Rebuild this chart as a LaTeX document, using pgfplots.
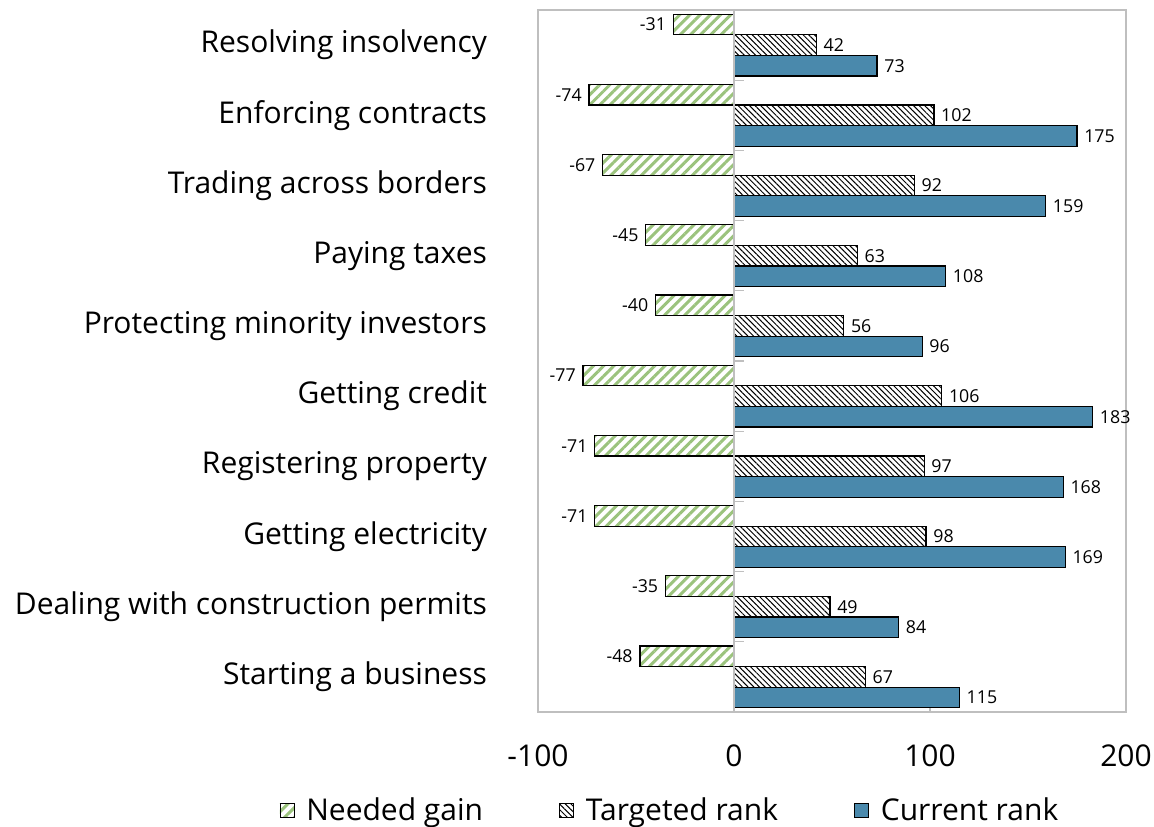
\documentclass[border=0pt]{standalone}
\usepackage{fontspec}
\setmainfont{Open Sans}
\usepackage{pgfplots}
\pgfplotsset{compat=1.18}
\usetikzlibrary{patterns.meta}
\definecolor{stripegreen}{HTML}{9BC37D}
\definecolor{barblue}{HTML}{4A89AC}
\definecolor{framegray}{HTML}{BFBFBF}

\begin{document}
\begin{tikzpicture}
\begin{axis}[
    xbar,
    scale only axis,
    width=294pt, height=351pt,
    xmin=-100, xmax=200,
    ymin=-0.5, ymax=9.5,
    xtick={-100,0,100,200},
    xtick pos=bottom,
    tick align=inside,
    major tick length=5pt,
    xtick style={framegray, line width=0.6pt},
    ytick={0,...,9},
    ytick style={draw=none},
    yticklabels={Starting a business, Dealing with construction permits,
      Getting electricity, Registering property, Getting credit,
      Protecting minority investors, Paying taxes, Trading across borders,
      Enforcing contracts, Resolving insolvency},
    yticklabel style={font=\fontsize{15}{17}\selectfont, xshift=-22pt},
    xticklabel style={font=\fontsize{15}{17}\selectfont, yshift=-13pt},
    /pgf/number format/assume math mode=true,
    axis line style={framegray, line width=0.6pt},
    bar width=10.3pt,
    nodes near coords,
    nodes near coords style={font=\fontsize{8.9}{10}\selectfont, black},
    legend style={at={(0.226,-0.14)}, anchor=center, draw=none,
      font=\fontsize{15}{17}\selectfont, legend columns=3,
      /tikz/every odd column/.append style={column sep=4pt},
      /tikz/every even column/.append style={column sep=36pt}},
    legend image code/.code={\draw[#1, line width=0.4pt] (0pt,-3.5pt) rectangle (7pt,3.5pt);},
]
\addplot[draw=black, line width=0.6pt, bar shift=10.3pt,
    pattern={Lines[angle=45, distance=3.6pt, line width=1.5pt]}, pattern color=stripegreen,
    every node near coord/.append style={anchor=east}]
  coordinates {(-48,0) (-35,1) (-71,2) (-71,3) (-77,4) (-40,5) (-45,6) (-67,7) (-74,8) (-31,9)};
\addlegendentry{Needed gain}
\addplot[draw=black, line width=0.6pt, bar shift=0pt,
    pattern={Lines[angle=-45, distance=2pt, line width=0.5pt]}, pattern color=black,
    every node near coord/.append style={anchor=west}]
  coordinates {(67,0) (49,1) (98,2) (97,3) (106,4) (56,5) (63,6) (92,7) (102,8) (42,9)};
\addlegendentry{Targeted rank}
\addplot[draw=black, line width=0.6pt, bar shift=-10.3pt, fill=barblue,
    every node near coord/.append style={anchor=west}]
  coordinates {(115,0) (84,1) (169,2) (168,3) (183,4) (96,5) (108,6) (159,7) (175,8) (73,9)};
\addlegendentry{Current rank}
% zero line with category separators
\draw[framegray, line width=0.6pt] (axis cs:0,-0.5) -- (axis cs:0,9.5);
\pgfplotsinvokeforeach{0.5,1.5,...,8.5}{
  \draw[framegray, line width=0.6pt] (axis cs:0,#1) -- ([xshift=5pt]axis cs:0,#1);
}
\coordinate (sw) at (rel axis cs:0,0);
\coordinate (ne) at (rel axis cs:1,1);
\end{axis}
\pgfresetboundingbox
\path[use as bounding box] ([shift={(-269pt,-57.5pt)}]sw) rectangle ([shift={(14pt,5pt)}]ne);
\end{tikzpicture}
\end{document}
